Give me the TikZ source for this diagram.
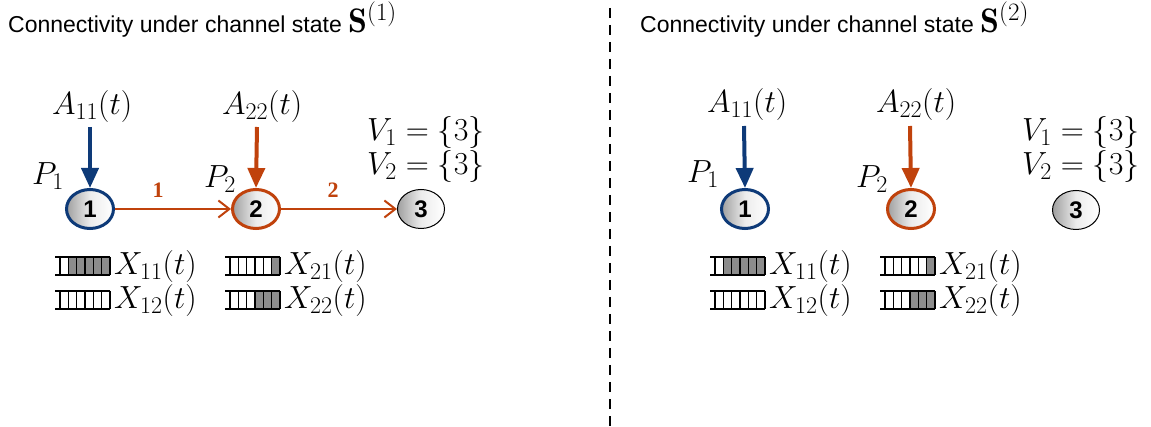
\RequirePackage{fix-cm}
\documentclass[tikz,border=0pt]{standalone}
\usepackage{fontspec}
\setsansfont{Liberation Sans}
\newfontfamily\arial{Liberation Sans}
\newfontfamily\tnr{Liberation Serif}
\usetikzlibrary{arrows.meta,shapes.geometric}
\DeclareMathSizes{32}{32}{24}{18}
\DeclareMathSizes{34}{34}{25}{19}
\definecolor{navy}{RGB}{14,58,120}
\definecolor{rust}{RGB}{192,66,12}
\definecolor{qgray}{RGB}{140,140,140}
\tikzset{
  title/.style={anchor=base west,inner sep=0pt,font=\arial\fontsize{23}{27}\selectfont},
  mlabel/.style={anchor=base west,inner sep=0pt,font=\fontsize{32}{36}\selectfont},
  mnode/.style={ellipse,minimum width=47pt,minimum height=39pt,inner sep=0pt,
     left color=gray!75,right color=white,middle color=gray!15,
     font=\arial\bfseries\fontsize{24}{28}\selectfont},
  bluenode/.style={mnode,draw=navy,line width=3pt},
  rustnode/.style={mnode,draw=rust,line width=3pt},
  plainnode/.style={mnode,draw=black,line width=1pt},
  inarrow/.style={line width=4pt,-{Triangle[length=20pt,width=17pt]}},
  link/.style={draw=rust,line width=2pt,-{Straight Barb[length=11pt,width=17pt,line width=2pt]}},
  elabel/.style={text=rust,inner sep=0pt,font=\tnr\bfseries\fontsize{22}{26}\selectfont},
}
\newcommand{\qbox}[3]{%
  \begin{scope}[shift={(#1,#2)}]
    \fill[qgray] ({5+8.33*(6-#3)},0) rectangle (55,18);
    \draw[line width=1.3pt] (0,0) -- (55,0) (0,18) -- (55,18);
    \foreach \k in {0,...,6} \draw[line width=1.3pt] ({5+8.33*\k},0) -- ++(0,18);
  \end{scope}}
\newcommand{\ttl}[1]{Connectivity under channel state {\fontsize{34}{36}\selectfont$\mathbf{S}^{(#1)}$}}
\begin{document}
\begin{tikzpicture}[x=1pt,y=-1pt]
\useasboundingbox (0,0) rectangle (1151,427);
% divider
\coordinate (dtop) at (610,8);
\coordinate (dbot) at (610,427);
\draw[line width=2pt,dash pattern=on 10pt off 7pt] (dtop) -- (dbot);

% ---------- left panel ----------
\node[title] (t1) at (8,33) {\ttl{1}};
\node[bluenode] (l1) at (90,209) {1};
\node[rustnode] (l2) at (256,209) {2};
\node[plainnode] (l3) at (421,209) {3};
\node[mlabel] (la11) at (52,115) {$A_{11}(t)$};
\node[mlabel] (la22) at (222,115) {$A_{22}(t)$};
\coordinate (la11s) at (90,127);
\coordinate (la22s) at (257,127);
\draw[inarrow,navy] (la11s) -- (l1.north);
\draw[inarrow,rust] (la22s) -- (l2.north);
\node[mlabel] (lp1) at (32,185) {$P_1$};
\node[mlabel] (lp2) at (204,188) {$P_2$};
\node[mlabel] (lv1) at (367,141) {$V_1=\{3\}$};
\node[mlabel] (lv2) at (367,175) {$V_2=\{3\}$};
\draw[link] (l1) -- (l2);
\draw[link] (l2) -- (l3);
\node[elabel] (le1) at (158,190) {1};
\node[elabel] (le2) at (333,190) {2};
\qbox{55}{257}{5}
\qbox{55}{291}{0}
\qbox{225}{257}{1}
\qbox{225}{291}{3}
\node[mlabel] (lx11) at (114,275) {$X_{11}(t)$};
\node[mlabel] (lx12) at (114,309) {$X_{12}(t)$};
\node[mlabel] (lx21) at (284,275) {$X_{21}(t)$};
\node[mlabel] (lx22) at (284,309) {$X_{22}(t)$};

% ---------- right panel ----------
\node[title] (t2) at (640,33) {\ttl{2}};
\node[bluenode] (r1) at (745,209) {1};
\node[rustnode] (r2) at (911,209) {2};
\node[plainnode] (r3) at (1076,210) {3};
\node[mlabel] (ra11) at (707,113) {$A_{11}(t)$};
\node[mlabel] (ra22) at (876,113) {$A_{22}(t)$};
\coordinate (ra11s) at (744,126);
\coordinate (ra22s) at (910,126);
\draw[inarrow,navy] (ra11s) -- (r1.north);
\draw[inarrow,rust] (ra22s) -- (r2.north);
\node[mlabel] (rp1) at (687,183) {$P_1$};
\node[mlabel] (rp2) at (856,188) {$P_2$};
\node[mlabel] (rv1) at (1022,141) {$V_1=\{3\}$};
\node[mlabel] (rv2) at (1022,175) {$V_2=\{3\}$};
\qbox{710}{257}{5}
\qbox{710}{291}{0}
\qbox{880}{257}{1}
\qbox{880}{291}{3}
\node[mlabel] (rx11) at (769,275) {$X_{11}(t)$};
\node[mlabel] (rx12) at (769,309) {$X_{12}(t)$};
\node[mlabel] (rx21) at (939,275) {$X_{21}(t)$};
\node[mlabel] (rx22) at (939,309) {$X_{22}(t)$};
\end{tikzpicture}
\end{document}
